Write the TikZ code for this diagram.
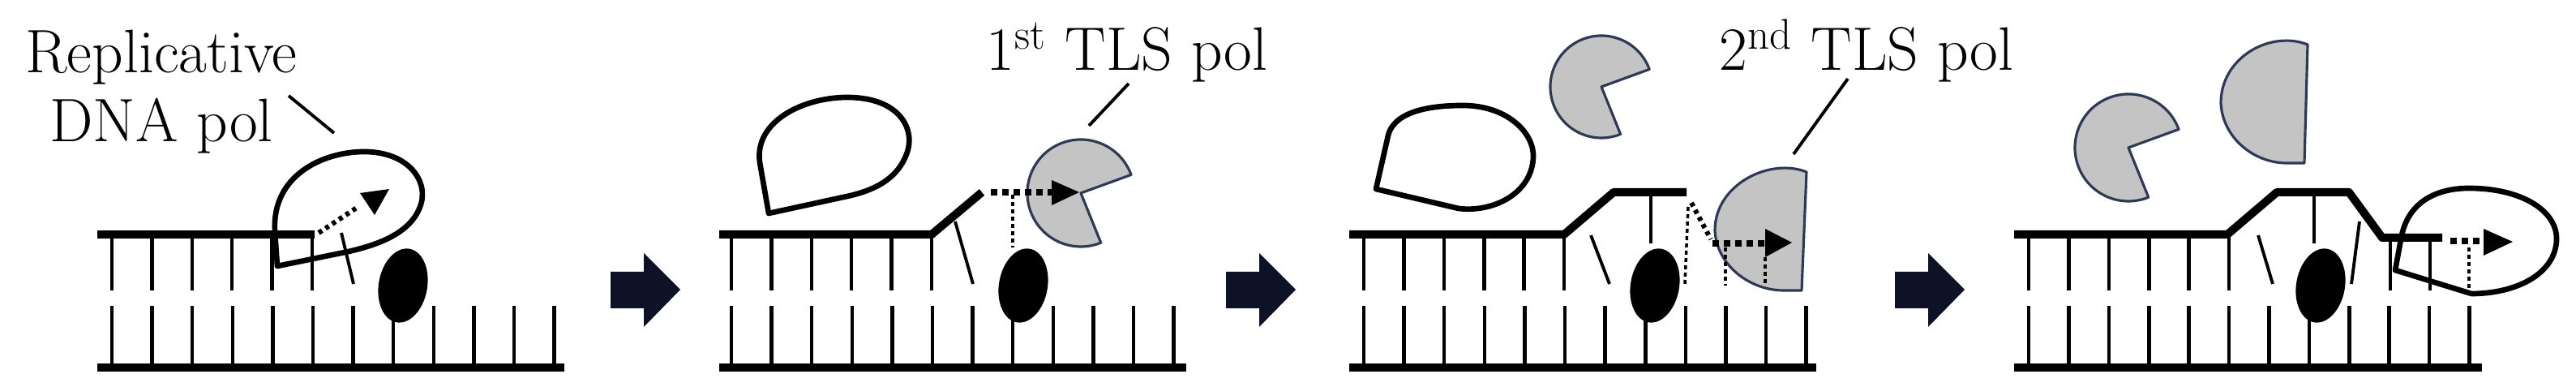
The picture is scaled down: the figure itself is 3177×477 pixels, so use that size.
\documentclass[tikz,border=0pt]{standalone}
\begin{document}
\begin{tikzpicture}[x=0.01cm,y=0.01cm,
  strand/.style={line width=0.1cm},
  tooth/.style={line width=1.3pt},
  thinline/.style={line width=1.1pt},
  polout/.style={line width=1.9pt, line join=round},
  tls/.style={fill=tlsgray, draw=tlsedge, line width=0.9pt, line join=round},
  dotbig/.style={line width=0.085cm, dash pattern=on 0.08cm off 0.06cm},
  dotsmall/.style={line width=0.06cm, dash pattern=on 0.05cm off 0.05cm},
  dotthin/.style={line width=0.035cm, dash pattern=on 0.05cm off 0.04cm},
  lbl/.style={font=\fontsize{21.5}{26}\selectfont, anchor=base, inner sep=0pt},
  bigarrow/.style={fill=arrowcol}]
\definecolor{tlsgray}{HTML}{C4C4C4}
\definecolor{tlsedge}{HTML}{2E3A55}
\definecolor{arrowcol}{HTML}{0D1226}
\useasboundingbox (0,0) rectangle (3177,-477);

% ===== Panel 1 =====
\draw[strand] (120,-289) -- (388,-289);
\draw[strand] (120,-453) -- (696,-453);
\foreach \i in {0,...,5} \draw[tooth] (138+\i*49.4,-289) -- ++(0,-69);
\foreach \i in {0,...,11} \draw[tooth] (138+\i*49.6,-377) -- ++(0,-76);
\draw[thinline] (421,-287) -- (436,-350);
\fill[rotate around={-10:(497,-352)}] (497,-352) ellipse [x radius=30, y radius=46];
\draw[polout] (342,-328) -- (339,-285) .. controls (335,-215) and (400,-187) .. (449,-187) .. controls (505,-187) and (530,-225) .. (518,-255) .. controls (505,-290) and (460,-303) .. (430,-310) -- cycle;
\draw[dotsmall] (393,-287) -- (440,-256);
\fill (444,-238) -- (480,-233) -- (462,-265) -- cycle;
\node[lbl] (rep1) at (199,-90) {Replicative};
\node[lbl] (rep2) at (199,-175) {DNA pol};
\coordinate (r1) at (356,-118); \coordinate (r2) at (412,-164);
\draw[thinline] (r1) -- (r2);
\fill[bigarrow] (753,-335) -- (794,-335) -- (794,-312) -- (839,-357) -- (794,-403) -- (794,-380) -- (753,-380) -- cycle;

% ===== Panel 2 =====
\draw[strand, line join=round] (887,-289) -- (1149,-289) -- (1211,-237);
\draw[strand] (887,-453) -- (1463,-453);
\foreach \i in {0,...,5} \draw[tooth] (902+\i*49.4,-289) -- ++(0,-69);
\foreach \i in {0,...,11} \draw[tooth] (902+\i*49.6,-377) -- ++(0,-76);
\draw[thinline] (1178,-273) -- (1200,-350);
\fill[rotate around={-10:(1262,-352)}] (1262,-352) ellipse [x radius=30, y radius=46];
\draw[polout] (948,-263) -- (937,-200) .. controls (930,-150) and (990,-120) .. (1045,-120) .. controls (1110,-120) and (1130,-160) .. (1118,-190) .. controls (1105,-225) and (1070,-237) .. (1040,-243) -- cycle;
\filldraw[tls] (1333,-238) -- ++(20:66) arc[start angle=20, end angle=292, radius=66] -- cycle;
\draw[dotthin] (1249,-240) -- (1249,-305);
\draw[dotbig] (1222,-237) -- (1297,-237);
\fill (1297,-222) -- (1331,-237) -- (1297,-253) -- cycle;
\node[lbl] (tls1) at (1390,-87) {1\textsuperscript{st} TLS pol};
\coordinate (t1a) at (1392,-103); \coordinate (t1b) at (1343,-155);
\draw[thinline] (t1a) -- (t1b);
\fill[bigarrow] (1512,-335) -- (1553,-335) -- (1553,-312) -- (1598,-357) -- (1553,-403) -- (1553,-380) -- (1512,-380) -- cycle;

% ===== Panel 3 =====
\draw[strand, line join=round] (1664,-289) -- (1929,-289) -- (1990,-237) -- (2080,-237);
\draw[strand] (1664,-453) -- (2240,-453);
\foreach \i in {0,...,5} \draw[tooth] (1682+\i*49.4,-289) -- ++(0,-69);
\foreach \i in {0,...,11} \draw[tooth] (1682+\i*49.6,-377) -- ++(0,-76);
\draw[thinline] (1962,-290) -- (1985,-350);
\draw[thinline] (2036,-237) -- (2036,-300);
\fill[rotate around={-10:(2041,-352)}] (2041,-352) ellipse [x radius=30, y radius=46];
\draw[polout] (1697,-233) -- (1712,-167) .. controls (1720,-135) and (1770,-130) .. (1804,-130) .. controls (1860,-130) and (1893,-165) .. (1891,-195) .. controls (1888,-240) and (1840,-262) .. (1799,-257) -- cycle;
\filldraw[tls] (1975,-107) -- ++(20:63) arc[start angle=20, end angle=292, radius=63] -- cycle;
\begin{scope}[shift={(2228,-212)}]
\filldraw[tls] (0,0) .. controls (-45,18) and (-113,-15) .. (-113,-72) .. controls (-111,-115) and (-70,-146) .. (-28,-146) -- (-6,-146) -- cycle;
\end{scope}
\draw[dotthin] (2082,-255) -- (2078,-350);
\draw[dotsmall] (2086,-250) -- (2110,-295);
\draw[dotbig] (2112,-300) -- (2177,-300);
\fill (2177,-282) -- (2210,-299) -- (2177,-317) -- cycle;
\draw[dotthin] (2128,-305) -- (2128,-352);
\draw[dotthin] (2177,-317) -- (2177,-352);
\node[lbl] (tls2) at (2302,-87) {2\textsuperscript{nd} TLS pol};
\coordinate (t2a) at (2279,-97); \coordinate (t2b) at (2212,-190);
\draw[thinline] (t2a) -- (t2b);
\fill[bigarrow] (2337,-335) -- (2378,-335) -- (2378,-312) -- (2423,-357) -- (2378,-403) -- (2378,-380) -- (2337,-380) -- cycle;

% ===== Panel 4 =====
\draw[strand, line join=round] (2484,-289) -- (2747,-289) -- (2808,-237) -- (2897,-237) -- (2938,-293) -- (3012,-293);
\draw[strand] (2484,-453) -- (3061,-453);
\foreach \i in {0,...,5} \draw[tooth] (2502+\i*49.4,-289) -- ++(0,-69);
\draw[tooth] (2948,-293) -- (2948,-358);
\draw[tooth] (2997,-293) -- (2997,-358);
\foreach \i in {0,...,11} \draw[tooth] (2502+\i*49.4,-377) -- ++(0,-76);
\draw[thinline] (2785,-290) -- (2803,-350);
\draw[thinline] (2854,-237) -- (2854,-300);
\draw[thinline] (2910,-273) -- (2900,-350);
\fill[rotate around={-10:(2862,-352)}] (2862,-352) ellipse [x radius=30, y radius=46];
\filldraw[tls] (2625,-182) -- ++(20:66) arc[start angle=20, end angle=292, radius=66] -- cycle;
\begin{scope}[shift={(2846,-55)}]
\filldraw[tls] (0,0) .. controls (-45,18) and (-107,-15) .. (-107,-72) .. controls (-105,-115) and (-66,-146) .. (-26,-146) -- (-4,-146) -- cycle;
\end{scope}
\draw[polout] (2954,-333) -- (2962,-290) .. controls (2972,-245) and (3010,-232) .. (3045,-232) .. controls (3110,-232) and (3155,-260) .. (3153,-297) .. controls (3150,-340) and (3100,-362) .. (3048,-362) -- cycle;
\draw[dotbig] (3022,-297) -- (3063,-297);
\fill (3063,-282) -- (3099,-298) -- (3063,-315) -- cycle;
\draw[dotthin] (3045,-305) -- (3045,-355);
\end{tikzpicture}
\end{document}
